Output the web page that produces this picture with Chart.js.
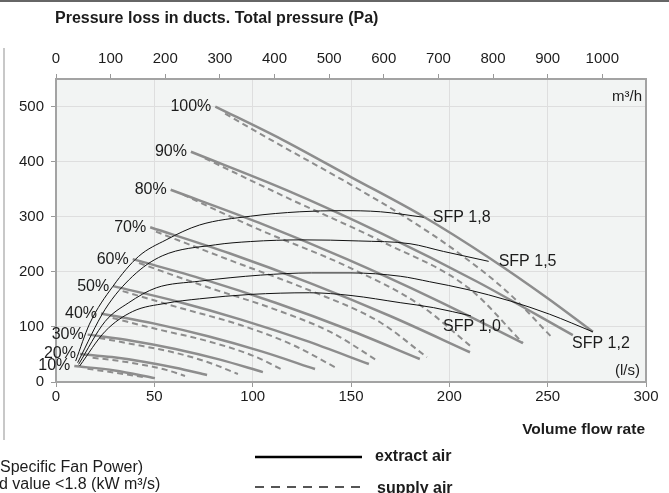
<!DOCTYPE html>
<html>
<head>
<meta charset="utf-8">
<script src="https://cdn.jsdelivr.net/npm/chart.js@4.4.1/dist/chart.umd.min.js"></script>
<style>
  html, body { margin: 0; padding: 0; background: #fff; }
  #wrap { width: 669px; height: 493px; }
</style>
</head>
<body>
<div id="wrap"><canvas id="chart" width="669" height="493"></canvas></div>
<script>
// tick labels
const lsTicks = [0, 50, 100, 150, 200, 250, 300];
const m3hTicks = [0, 100, 200, 300, 400, 500, 600, 700, 800, 900, 1000];
const paTicks = [0, 100, 200, 300, 400, 500];

// fan speed steps, [l/s, Pa]
const fanLevels = ['10%', '20%', '30%', '40%', '50%', '60%', '70%', '80%', '90%', '100%'];
const extractCurves = [
    [[9.3, 29], [29.8, 21], [50.3, 7]],
    [[12.2, 51], [28.4, 45.2], [44.5, 36.9], [60.7, 26], [76.8, 12.7]],
    [[16.1, 86], [38.4, 75], [60.7, 60], [82.9, 41], [105.2, 18]],
    [[22.9, 124.5], [50.1, 106], [77.3, 83], [104.5, 55.5], [131.7, 23.5]],
    [[29.1, 174], [61.6, 146.2], [94.1, 113.3], [126.6, 75.5], [159.1, 32.6]],
    [[39, 223], [75.5, 185.9], [112, 143.4], [148.5, 95.3], [185, 41.7]],
    [[47.9, 281], [88.5, 233.3], [129.2, 179.5], [169.9, 119.8], [210.5, 54]],
    [[58.3, 349], [103.1, 289.2], [147.9, 222.9], [192.6, 150], [237.4, 70.7]],
    [[68.6, 418], [117.2, 348.3], [165.7, 269.5], [214.2, 182], [262.8, 85]],
    [[81, 500], [115, 440], [150, 372], [187, 300], [220, 226], [250, 152], [273, 91]]
];
const supplyCurves = [
    [[16, 24], [29.8, 17], [44.2, 9]],
    [[18.6, 44], [28.4, 40], [44.5, 31], [56, 22], [65.6, 11]],
    [[22, 80], [38.4, 69], [60.7, 53], [78, 35], [92.5, 14.5]],
    [[28.8, 116], [50.1, 97], [77.3, 74], [100, 48], [115.4, 21.7]],
    [[33.9, 165], [61.6, 136], [94.1, 103], [120, 68], [141.8, 27]],
    [[42.2, 216], [75.5, 174], [112, 131], [140, 90], [163.7, 38]],
    [[50.8, 273], [88.5, 221], [129.2, 166], [165, 108], [188.6, 45]],
    [[64.6, 340], [103.1, 277], [147.9, 210], [185, 140], [212, 61.6]],
    [[75.7, 406], [117.2, 335], [165.7, 255], [210, 170], [237.4, 70.7]],
    [[86, 487], [114, 430], [150, 358], [180, 294], [204, 236], [230, 162], [252, 81.5]]
];

// SFP lines
const sfpLabels = ['SFP 1,0', 'SFP 1,2', 'SFP 1,5', 'SFP 1,8'];
const sfpCurves = [
    [[12, 29], [25, 92], [39, 128], [56, 143], [73, 151], [99, 159], [129, 162], [150, 157], [175, 144], [192, 135], [211, 120]],
    [[11.5, 32], [25, 110], [37, 144], [51, 171], [73, 183], [104, 194], [130, 198], [150, 198], [175, 192], [190, 182], [209, 168], [231, 147], [251, 123], [273, 91]],
    [[11, 35], [25, 132], [39, 192], [54, 229], [81, 249], [99, 255], [125, 258], [154, 256], [180, 251], [197, 237], [220, 219]],
    [[10, 38], [17, 105], [29, 174], [42, 228], [56, 258], [73, 285], [99, 301], [124, 309], [145, 311], [165, 309], [187, 299]]
];
// label placement for SFP names: dx, dy, align
const sfpLabelPos = [[1, 11, 'center'], [8, 12, 'center'], [10, 0, 'left'], [9, 0, 'left']];

const FONT = "'Liberation Sans', Arial, sans-serif";
const TXT = '#1c1c1c';
const CURVE = '#8d8d8d';

function toXY(pts) {
    return pts.map(p => ({ x: p[0], y: p[1] }));
}

const datasets = [];
sfpCurves.forEach((c, i) => {
    datasets.push({
        label: sfpLabels[i], data: toXY(c), borderColor: '#111', borderWidth: 1,
        pointRadius: 0, cubicInterpolationMode: 'monotone', order: 0
    });
});
extractCurves.forEach((c, i) => {
    datasets.push({
        label: 'extract ' + fanLevels[i], data: toXY(c), borderColor: CURVE, borderWidth: 2.5,
        pointRadius: 0, cubicInterpolationMode: 'monotone', order: 1
    });
});
supplyCurves.forEach((c, i) => {
    datasets.push({
        label: 'supply ' + fanLevels[i], data: toXY(c), borderColor: CURVE, borderWidth: 2,
        borderDash: [6, 4], pointRadius: 0, cubicInterpolationMode: 'monotone', order: 1
    });
});

function text(ctx, s, x, y, font, align) {
    ctx.font = font;
    ctx.fillStyle = TXT;
    ctx.textAlign = align || 'left';
    ctx.textBaseline = 'middle';
    ctx.fillText(s, x, y);
}

const deco = {
    id: 'deco',
    beforeDraw(chart) {
        const { ctx, chartArea: a } = chart;
        ctx.save();
        ctx.fillStyle = '#fff';
        ctx.fillRect(0, 0, chart.width, chart.height);
        ctx.fillStyle = '#f2f4f3';
        ctx.fillRect(a.left, a.top, a.right - a.left, a.bottom - a.top);
        ctx.restore();
    },
    afterDraw(chart) {
        const { ctx, chartArea: a } = chart;
        const xs = chart.scales.x, ys = chart.scales.y;
        ctx.save();
        // plot frame
        ctx.strokeStyle = '#a3a3a3';
        ctx.lineWidth = 2;
        ctx.strokeRect(a.left, a.top, a.right - a.left, a.bottom - a.top);

        // page lines
        ctx.strokeStyle = '#666';
        ctx.beginPath(); ctx.moveTo(0, 1); ctx.lineTo(chart.width, 1); ctx.stroke();
        ctx.strokeStyle = '#c8c8c8';
        ctx.beginPath(); ctx.moveTo(4, 48); ctx.lineTo(4, 440); ctx.stroke();

        // fan step labels
        extractCurves.forEach((c, i) => {
            const px = xs.getPixelForValue(c[0][0]);
            const py = ys.getPixelForValue(c[0][1]);
            text(ctx, fanLevels[i], px - 4, py, '16px ' + FONT, 'right');
        });
        // SFP labels
        sfpCurves.forEach((c, i) => {
            const last = c[c.length - 1];
            const p = sfpLabelPos[i];
            text(ctx, sfpLabels[i], xs.getPixelForValue(last[0]) + p[0],
                ys.getPixelForValue(last[1]) + p[1], '16px ' + FONT, p[2]);
        });

        // units
        text(ctx, 'm³/h', a.right - 4, a.top + 18, '15px ' + FONT, 'right');
        text(ctx, '(l/s)', a.right - 6, a.bottom - 11, '15px ' + FONT, 'right');

        // titles
        text(ctx, 'Pressure loss in ducts. Total pressure (Pa)', 55, 19, 'bold 16px ' + FONT);
        text(ctx, 'Volume flow rate', 645, 430, 'bold 15.5px ' + FONT, 'right');

        // notes + legend
        text(ctx, 'Specific Fan Power)', 0, 468, '16px ' + FONT);
        text(ctx, 'd value <1.8 (kW m³/s)', -1, 485, '16px ' + FONT);

        ctx.strokeStyle = '#000';
        ctx.lineWidth = 2.5;
        ctx.beginPath(); ctx.moveTo(255, 457); ctx.lineTo(362, 457); ctx.stroke();
        text(ctx, 'extract air', 375, 457, 'bold 16px ' + FONT);

        ctx.strokeStyle = '#555';
        ctx.lineWidth = 2;
        ctx.setLineDash([9, 7]);
        ctx.beginPath(); ctx.moveTo(255, 487); ctx.lineTo(362, 487); ctx.stroke();
        ctx.setLineDash([]);
        text(ctx, 'supply air', 377, 489, 'bold 16px ' + FONT);
        ctx.restore();
    }
};

const tickFont = { family: FONT, size: 15 };
const plain = v => String(v);

new Chart(document.getElementById('chart'), {
    type: 'line',
    data: { datasets: datasets },
    options: {
        responsive: false,
        animation: false,
        layout: { padding: { top: 35, left: 0, right: 23, bottom: 81 } },
        plugins: { legend: { display: false }, tooltip: { enabled: false } },
        scales: {
            x: {
                type: 'linear', position: 'bottom', min: 0, max: 300,
                afterBuildTicks: s => { s.ticks = lsTicks.map(v => ({ value: v })); },
                afterFit: s => { s.height = 30; },
                ticks: { font: tickFont, color: TXT, padding: 1, maxRotation: 0, autoSkip: false, callback: plain },
                grid: { color: '#dedede', tickColor: '#999', tickLength: 5 },
                border: { display: false }
            },
            x2: {
                type: 'linear', position: 'top', min: 0, max: 1080,
                afterBuildTicks: s => { s.ticks = m3hTicks.map(v => ({ value: v })); },
                afterFit: s => { s.height = 44; },
                ticks: { font: tickFont, color: TXT, padding: 6, maxRotation: 0, autoSkip: false, callback: plain },
                grid: { drawOnChartArea: false, tickColor: '#999', tickLength: 5 },
                border: { display: false }
            },
            y: {
                type: 'linear', min: 0, max: 550,
                afterBuildTicks: s => { s.ticks = paTicks.map(v => ({ value: v })); },
                afterFit: s => { s.width = 56; },
                ticks: { font: tickFont, color: TXT, padding: 7, callback: plain },
                grid: { color: '#dedede', tickColor: '#999', tickLength: 5 },
                border: { display: false }
            }
        }
    },
    plugins: [deco]
});
</script>
</body>
</html>
